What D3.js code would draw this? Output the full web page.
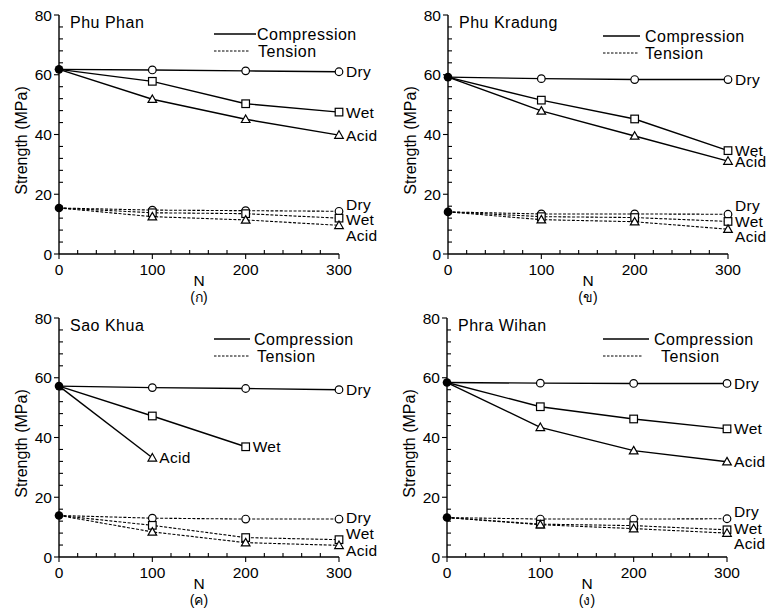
<!DOCTYPE html>
<html>
<head>
<meta charset="utf-8">
<script src="https://cdn.jsdelivr.net/npm/d3@7/dist/d3.min.js"></script>
<style>
  html, body { margin: 0; padding: 0; background: #fff; }
  svg { display: block; }
  text { font-family: "Liberation Sans", Arial, sans-serif; fill: #000; }
</style>
</head>
<body>
<svg id="chart" width="768" height="613"></svg>
<script>
// Number of wetting-drying / acid cycles
const N = [0, 100, 200, 300];
const sites = ["Phu Phan", "Phu Kradung", "Sao Khua", "Phra Wihan"];
const tags = ["(ก)", "(ข)", "(ค)", "(ง)"];
const conditions = ["Dry", "Wet", "Acid"];
const yTicks = [0, 20, 40, 60, 80];
const xTicks = [0, 100, 200, 300];

// Compressive strength (MPa), one row per site
const compDry = [
  [61.8, 61.6, 61.3, 61.0],
  [59.2, 58.7, 58.4, 58.4],
  [57.2, 56.7, 56.4, 56.0],
  [58.4, 58.2, 58.1, 58.1]
];
const compWet = [
  [61.8, 57.8, 50.3, 47.5],
  [59.2, 51.5, 45.2, 34.6],
  [57.2, 47.2, 36.9, null],
  [58.4, 50.3, 46.2, 42.9]
];
const compAcid = [
  [61.8, 51.8, 45.1, 39.8],
  [59.2, 47.9, 39.5, 31.1],
  [57.2, 33.2, null, null],
  [58.4, 43.4, 35.6, 31.9]
];

// Tensile strength (MPa), one row per site
const tensDry = [
  [15.4, 14.7, 14.5, 14.3],
  [14.1, 13.4, 13.4, 13.3],
  [13.9, 13.0, 12.7, 12.7],
  [13.2, 12.7, 12.7, 12.8]
];
const tensWet = [
  [15.4, 13.8, 13.5, 12.0],
  [14.1, 12.5, 12.2, 10.9],
  [13.9, 10.6, 6.5, 5.8],
  [13.2, 11.0, 10.5, 9.1]
];
const tensAcid = [
  [15.4, 12.5, 11.4, 9.6],
  [14.1, 11.5, 10.8, 8.3],
  [13.9, 8.4, 4.8, 3.9],
  [13.2, 10.8, 9.5, 8.0]
];

// ---- layout ----
const panelOrigins = [[0, 0], [389, 0], [0, 303], [388, 303]];
const plotLeft = 59, plotRight = 339, plotTop = 15, plotBottom = 254;
// legend geometry per panel: [lineStart, compLineEnd, compTextX, tensLineEnd, tensTextX, compY, tensY]
const legendGeom = [
  [155, 197, 198, 191, 199, 34, 51],
  [155, 192, 197, 191, 197, 36, 53],
  [155, 191, 195, 191, 198, 36, 53],
  [156, 202, 207, 196, 214, 36, 53]
];
// vertical nudges (px) for end labels of tension curves: Dry, Wet, Acid
const tensLabelShift = [
  [-7, 1, 10],
  [-9, 0, 7],
  [-2, -6, 5],
  [-7, -1, 10]
];

const svg = d3.select("#chart");
const dryMarker = "circle", wetMarker = "square", acidMarker = "triangle";

function marker(g, type, x, y) {
  if (type === "circle") {
    g.append("circle").attr("cx", x).attr("cy", y).attr("r", 3.8)
      .attr("fill", "#fff").attr("stroke", "#000").attr("stroke-width", 1.2);
  } else if (type === "square") {
    g.append("rect").attr("x", x - 3.8).attr("y", y - 3.8).attr("width", 7.6).attr("height", 7.6)
      .attr("fill", "#fff").attr("stroke", "#000").attr("stroke-width", 1.2);
  } else {
    const s = 4.3;
    g.append("path")
      .attr("d", `M${x},${y - s}L${x + s},${y + s * 0.75}L${x - s},${y + s * 0.75}Z`)
      .attr("fill", "#fff").attr("stroke", "#000").attr("stroke-width", 1.2);
  }
}

sites.forEach((site, i) => {
  const [ox, oy] = panelOrigins[i];
  const g = svg.append("g").attr("transform", `translate(${ox},${oy})`);
  const x = d3.scaleLinear().domain([0, 300]).range([plotLeft, plotRight]);
  const y = d3.scaleLinear().domain([0, 80]).range([plotBottom, plotTop]);

  // axes lines
  g.append("line").attr("x1", x(0)).attr("x2", x(0)).attr("y1", y(0)).attr("y2", y(80))
    .attr("stroke", "#000").attr("stroke-width", 1.4);
  g.append("line").attr("x1", x(0)).attr("x2", x(300)).attr("y1", y(0)).attr("y2", y(0))
    .attr("stroke", "#000").attr("stroke-width", 1.4);

  // y ticks: majors outward, minors inward every 4 MPa
  d3.range(0, 80.01, 4).forEach(v => {
    const major = v % 20 === 0;
    g.append("line").attr("x1", x(0)).attr("x2", major ? x(0) - 5 : x(0) + 4)
      .attr("y1", y(v)).attr("y2", y(v)).attr("stroke", "#000").attr("stroke-width", 1.1);
  });
  yTicks.forEach(v => {
    g.append("text").attr("x", x(0) - 7).attr("y", y(v)).attr("dy", "0.36em")
      .attr("text-anchor", "end").attr("font-size", 15.5).text(v);
  });
  // x ticks: majors downward, minors upward every 20 cycles
  d3.range(0, 300.01, 20).forEach(v => {
    const major = v % 100 === 0;
    g.append("line").attr("x1", x(v)).attr("x2", x(v))
      .attr("y1", y(0)).attr("y2", major ? y(0) + 5 : y(0) - 4)
      .attr("stroke", "#000").attr("stroke-width", 1.1);
  });
  xTicks.forEach(v => {
    g.append("text").attr("x", x(v)).attr("y", y(0) + 21)
      .attr("text-anchor", "middle").attr("font-size", 15.5).text(v);
  });

  // axis titles and panel tag
  g.append("text").attr("x", (plotLeft + plotRight) / 2).attr("y", y(0) + 32)
    .attr("text-anchor", "middle").attr("font-size", 15.5).text("N");
  g.append("text").attr("transform", `translate(27,${(plotTop + plotBottom) / 2 + 6}) rotate(-90)`)
    .attr("text-anchor", "middle").attr("font-size", 16).text("Strength (MPa)");
  g.append("text").attr("x", (plotLeft + plotRight) / 2).attr("y", y(0) + 48)
    .attr("text-anchor", "middle").attr("font-size", 14).text(tags[i]);

  // site name
  g.append("text").attr("x", 70).attr("y", 28).attr("font-size", 16)
    .attr("letter-spacing", 0.5).text(site);

  // legend
  const [l0, c1, ctx, t1, ttx, cy, ty] = legendGeom[i];
  g.append("line").attr("x1", l0 + plotLeft).attr("x2", c1 + plotLeft).attr("y1", cy).attr("y2", cy)
    .attr("stroke", "#000").attr("stroke-width", 1.4);
  g.append("text").attr("x", ctx + plotLeft).attr("y", cy).attr("dy", "0.36em")
    .attr("font-size", 16).attr("letter-spacing", 0.5).text("Compression");
  g.append("line").attr("x1", l0 + plotLeft).attr("x2", t1 + plotLeft).attr("y1", ty).attr("y2", ty)
    .attr("stroke", "#000").attr("stroke-width", 1).attr("stroke-dasharray", "2.5,1.5");
  g.append("text").attr("x", ttx + plotLeft).attr("y", ty).attr("dy", "0.36em")
    .attr("font-size", 16).attr("letter-spacing", 0.5).text("Tension");

  const line = d3.line().defined(d => d[1] != null).x(d => x(d[0])).y(d => y(d[1]));
  const series = [
    { vals: compDry[i], m: dryMarker, dash: null, label: conditions[0], shift: 0 },
    { vals: compWet[i], m: wetMarker, dash: null, label: conditions[1], shift: 0 },
    { vals: compAcid[i], m: acidMarker, dash: null, label: conditions[2], shift: 0 },
    { vals: tensDry[i], m: dryMarker, dash: "3,1.6", label: conditions[0], shift: tensLabelShift[i][0] },
    { vals: tensWet[i], m: wetMarker, dash: "3,1.6", label: conditions[1], shift: tensLabelShift[i][1] },
    { vals: tensAcid[i], m: acidMarker, dash: "3,1.6", label: conditions[2], shift: tensLabelShift[i][2] }
  ];

  series.forEach(s => {
    const pts = N.map((n, k) => [n, s.vals[k]]);
    g.append("path").attr("d", line(pts)).attr("fill", "none").attr("stroke", "#000")
      .attr("stroke-width", s.dash ? 1.1 : 1.4)
      .attr("stroke-dasharray", s.dash);
  });
  series.forEach(s => {
    const pts = N.map((n, k) => [n, s.vals[k]]).filter(d => d[1] != null);
    pts.slice(1).forEach(d => marker(g, s.m, x(d[0]), y(d[1])));
    const last = pts[pts.length - 1];
    g.append("text").attr("x", x(last[0]) + 7)
      .attr("y", y(last[1]) + s.shift).attr("dy", "0.36em")
      .attr("font-size", 15.5).attr("letter-spacing", 0.3).text(s.label);
  });
  // shared starting points
  [compDry[i][0], tensDry[i][0]].forEach(v => {
    g.append("circle").attr("cx", x(0)).attr("cy", y(v)).attr("r", 4.3).attr("fill", "#000");
  });
});
</script>
</body>
</html>
